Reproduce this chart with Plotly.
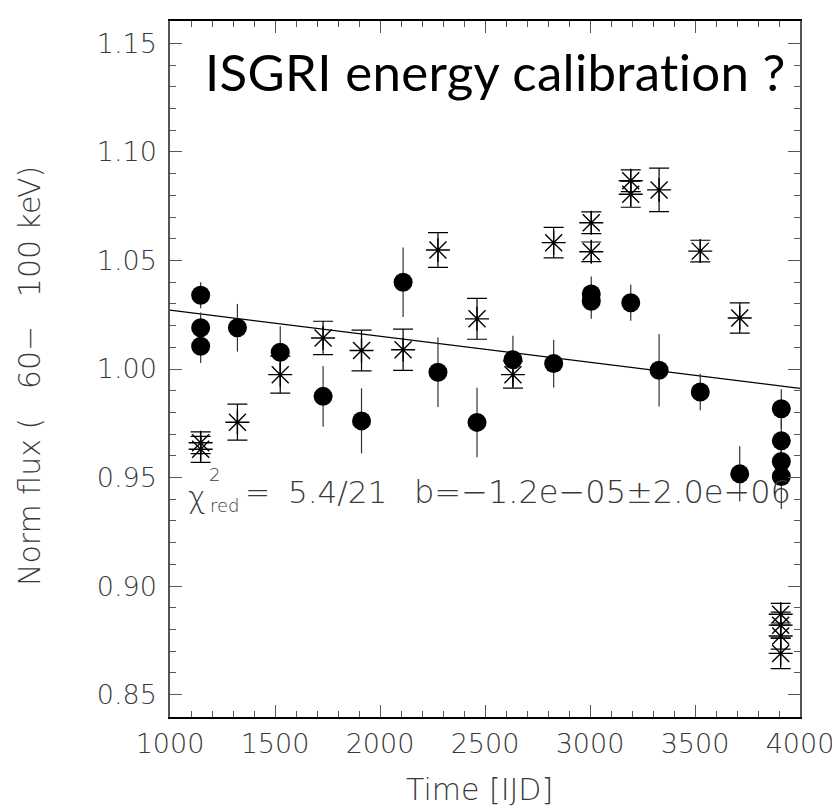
import plotly.graph_objects as go

# ---- data ----
circ_t = [1146, 1146, 1146, 1321, 1525, 1729, 1912, 2110, 2276, 2462, 2633, 2827,
          3006, 3006, 3194, 3329, 3525, 3713, 3911, 3911, 3911, 3911]
circ_v = [1.034, 1.019, 1.0105, 1.019, 1.0077, 0.9874, 0.9761, 1.040, 0.9985, 0.9754,
          1.0043, 1.0025, 1.0346, 1.0312, 1.0305, 0.9994, 0.9894, 0.9517,
          0.9817, 0.9669, 0.9574, 0.9505]
circ_e = [0.006, 0.007, 0.0077, 0.011, 0.012, 0.014, 0.015, 0.016, 0.016, 0.016,
          0.011, 0.011, 0.008, 0.008, 0.0083, 0.0167, 0.0084, 0.0127,
          0.009, 0.010, 0.010, 0.015]

star_t = [1146, 1146, 1321, 1525, 1729, 1912, 2110, 2276, 2462, 2633, 2827,
          3006, 3006, 3194, 3194, 3329, 3525, 3713, 3908, 3908, 3908, 3908]
star_v = [0.966, 0.963, 0.9755, 0.9974, 1.0143, 1.0085, 1.0089, 1.0548, 1.0231, 0.9974,
          1.0582, 1.0674, 1.054, 1.0867, 1.0805, 1.0825, 1.0543, 1.0235,
          0.887, 0.882, 0.877, 0.869]
star_e = [0.005, 0.006, 0.0083, 0.0085, 0.0077, 0.0094, 0.0095, 0.008, 0.0094, 0.0062,
          0.007, 0.005, 0.0045, 0.005, 0.006, 0.010, 0.005, 0.007,
          0.005, 0.006, 0.006, 0.007]

fit_t = [1000, 4000]
fit_v = [1.0271, 0.9911]

x_ticks = [1000, 1500, 2000, 2500, 3000, 3500, 4000]
y_ticks = [0.85, 0.90, 0.95, 1.00, 1.05, 1.10, 1.15]
y_ticklabels = ["0.85", "0.90", "0.95", "1.00", "1.05", "1.10", "1.15"]

NB = "\u00a0"
title_text = "ISGRI energy calibration ?"
x_title = "Time [IJD]"
y_title = "Norm flux (" + NB * 3 + "60−" + NB * 3 + "100 keV)"
fit_text_a = "5.4/21"
fit_text_b = "b=−1.2e−05±2.0e−06"

# ---- layout geometry (pixels) ----
W, H = 840, 810
L, R, T, B = 162, 48, 13, 101
PW, PH = W - L - R, H - T - B


def px(xp):
    return (xp - L) / PW


def py(yp):
    return (H - B - yp) / PH


THIN = dict(family="DejaVu Sans", size=27, color="#3a3a3a", weight=200)

fig = go.Figure()

fig.add_trace(go.Scatter(
    x=fit_t, y=fit_v, mode="lines",
    line=dict(color="black", width=1.2), hoverinfo="skip", showlegend=False))

fig.add_trace(go.Scatter(
    x=circ_t, y=circ_v, mode="markers",
    marker=dict(symbol="circle", size=19, color="black"),
    error_y=dict(type="data", array=circ_e, visible=True, width=0,
                 thickness=1.2, color="#333"),
    showlegend=False))

fig.add_trace(go.Scatter(
    x=star_t, y=star_v, mode="markers",
    marker=dict(symbol="asterisk-open", size=20, color="black",
                line=dict(color="black", width=1.4)),
    error_y=dict(type="data", array=star_e, visible=True, width=10,
                 thickness=1.2, color="black"),
    showlegend=False))

axis_common = dict(
    ticks="inside", ticklen=12, tickwidth=1.3, tickcolor="#555",
    showline=True, mirror="ticks", showgrid=False, zeroline=False,
    tickfont=THIN,
)

fig.update_xaxes(
    range=[1000, 4000], tickvals=x_ticks, ticktext=[str(v) for v in x_ticks],
    linecolor="black", linewidth=2, ticklabelstandoff=2,
    minor=dict(dtick=100, ticks="inside", ticklen=6, tickwidth=1.3, tickcolor="#555"),
    **axis_common)
fig.update_yaxes(
    range=[0.8397, 1.1603], tickvals=y_ticks, ticktext=y_ticklabels,
    linecolor="#555", linewidth=1.5, ticklabelstandoff=6,
    minor=dict(dtick=0.01, ticks="inside", ticklen=6, tickwidth=1.3, tickcolor="#555"),
    **axis_common)

ann = []
ann.append(dict(
    text='<span style="letter-spacing:0.3px;font-variant-ligatures:none">'
         + title_text + '</span>',
    x=px(195), y=py(63), xref="paper", yref="paper",
    xanchor="left", yanchor="middle", showarrow=False,
    font=dict(family="Lato", size=51, color="black")))
ann.append(dict(text=x_title, x=px(471), y=py(781), xref="paper", yref="paper",
                xanchor="center", yanchor="middle", showarrow=False,
                font=dict(THIN, size=30)))
ann.append(dict(text=y_title, x=px(22), y=py(368), xref="paper", yref="paper",
                xanchor="center", yanchor="middle", showarrow=False, textangle=-90,
                font=dict(THIN, size=30)))
# chi^2_red annotation pieces
ann.append(dict(text="χ", x=px(189), y=py(490), xref="paper", yref="paper",
                xanchor="center", yanchor="middle", showarrow=False,
                font=dict(THIN, size=30)))
ann.append(dict(text="2", x=px(206), y=py(466), xref="paper", yref="paper",
                xanchor="center", yanchor="middle", showarrow=False,
                font=dict(THIN, size=18)))
ann.append(dict(text="red", x=px(200), y=py(497), xref="paper", yref="paper",
                xanchor="left", yanchor="middle", showarrow=False,
                font=dict(THIN, size=18)))
ann.append(dict(text="=", x=px(235), y=py(484), xref="paper", yref="paper",
                xanchor="left", yanchor="middle", showarrow=False,
                font=dict(THIN, size=30)))
ann.append(dict(text=fit_text_a, x=px(278), y=py(484), xref="paper", yref="paper",
                xanchor="left", yanchor="middle", showarrow=False,
                font=dict(THIN, size=31)))
ann.append(dict(text=fit_text_b, x=px(404), y=py(484), xref="paper", yref="paper",
                xanchor="left", yanchor="middle", showarrow=False,
                font=dict(THIN, size=32)))

fig.update_layout(
    width=W, height=H, autosize=False,
    margin=dict(l=L, r=R, t=T, b=B),
    plot_bgcolor="white", paper_bgcolor="white",
    annotations=ann, showlegend=False)

fig.write_html("out.html")
